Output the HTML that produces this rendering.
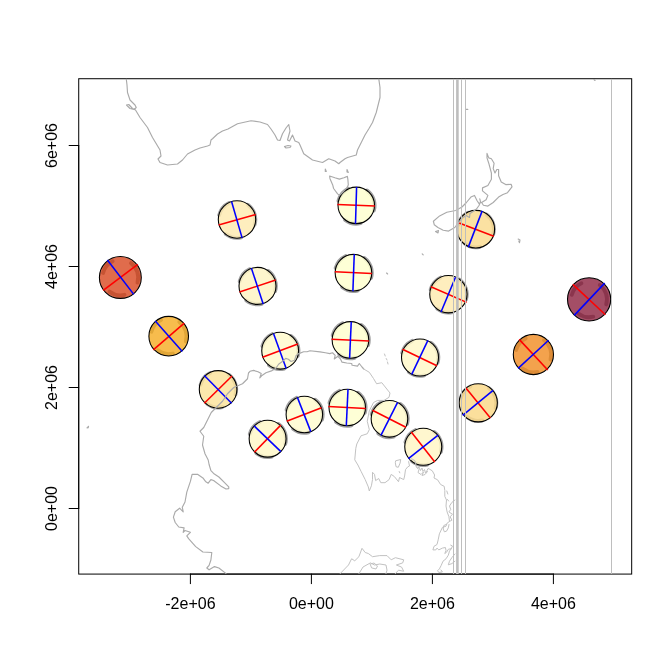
<!DOCTYPE html>
<html><head><meta charset="utf-8"><title>Tissot indicatrix plot</title>
<style>
html,body{margin:0;padding:0;background:#fff;}
svg{display:block}
text{font-family:"Liberation Sans",Arial,Helvetica,sans-serif;font-size:16px;fill:#000}
</style></head><body>
<svg width="672" height="672" viewBox="0 0 672 672">
<rect width="672" height="672" fill="#fff"/>
<defs><clipPath id="pc"><rect x="78.72" y="78.72" width="552.9599999999999" height="495.36"/></clipPath></defs>
<g fill="none" stroke="#000" stroke-width="1" stroke-linecap="round">
<path d="M190.4,574.08H553.4" />
<path d="M190.4,574.08v9.6"/>
<path d="M311.4,574.08v9.6"/>
<path d="M432.4,574.08v9.6"/>
<path d="M553.4,574.08v9.6"/>
<path d="M78.72,508.5V145.5"/>
<path d="M78.72,145.5h-9.6"/>
<path d="M78.72,266.5h-9.6"/>
<path d="M78.72,387.5h-9.6"/>
<path d="M78.72,508.5h-9.6"/>
<rect x="78.72" y="78.72" width="552.96" height="495.36"/>
</g>
<g clip-path="url(#pc)">
<path d="M103.07,272.98A17.85,17.85 0 0 1 112.67,261.34 M130.97,263.10A17.85,17.85 0 0 1 137.46,282.52 M124.52,294.81A17.85,17.85 0 0 1 109.48,291.61" fill="none" stroke="#a0a0a0" stroke-width="3.9" stroke-linecap="round"/>
<circle cx="120.35" cy="277.45" r="20.95" fill="rgba(213,56,13,0.74)" stroke="#000" stroke-width="1.08"/>
<line x1="103.2" y1="290.4" x2="137.8" y2="264.3" stroke="#f00" stroke-width="1.55"/>
<line x1="107.4" y1="260.05" x2="133.75" y2="294.4" stroke="#00f" stroke-width="1.55"/>
<path d="M151.42,331.73A17.85,17.85 0 0 1 161.02,320.09 M179.32,321.85A17.85,17.85 0 0 1 185.81,341.27 M172.87,353.56A17.85,17.85 0 0 1 157.83,350.36" fill="none" stroke="#a0a0a0" stroke-width="3.9" stroke-linecap="round"/>
<circle cx="168.7" cy="336.2" r="19.80" fill="rgba(245,168,23,0.77)" stroke="#000" stroke-width="1.08"/>
<line x1="153.3" y1="349.9" x2="184.3" y2="323.1" stroke="#f00" stroke-width="1.55"/>
<line x1="155.3" y1="321.1" x2="182.3" y2="351.5" stroke="#00f" stroke-width="1.55"/>
<path d="M200.58,384.87A18.10,18.10 0 0 1 210.31,373.06 M228.87,374.85A18.10,18.10 0 0 1 235.45,394.54 M222.33,407.00A18.10,18.10 0 0 1 207.08,403.76" fill="none" stroke="#a0a0a0" stroke-width="3.9" stroke-linecap="round"/>
<circle cx="218.1" cy="389.4" r="18.80" fill="rgba(251,228,156,0.84)" stroke="#000" stroke-width="1.08"/>
<line x1="204.3" y1="403.2" x2="232" y2="376" stroke="#f00" stroke-width="1.55"/>
<line x1="204.3" y1="375.5" x2="231.6" y2="403.2" stroke="#00f" stroke-width="1.55"/>
<path d="M219.23,214.91A18.35,18.35 0 0 1 229.10,202.94 M247.91,204.75A18.35,18.35 0 0 1 254.59,224.71 M241.28,237.34A18.35,18.35 0 0 1 225.83,234.06" fill="none" stroke="#a0a0a0" stroke-width="3.9" stroke-linecap="round"/>
<circle cx="237.0" cy="219.5" r="18.70" fill="rgba(254,235,178,0.84)" stroke="#000" stroke-width="1.08"/>
<line x1="218.6" y1="225" x2="255.7" y2="214.45" stroke="#f00" stroke-width="1.55"/>
<line x1="231.55" y1="201.5" x2="242.1" y2="237.9" stroke="#00f" stroke-width="1.55"/>
<path d="M239.73,281.31A18.35,18.35 0 0 1 249.60,269.34 M268.41,271.15A18.35,18.35 0 0 1 275.09,291.11 M261.78,303.74A18.35,18.35 0 0 1 246.33,300.46" fill="none" stroke="#a0a0a0" stroke-width="3.9" stroke-linecap="round"/>
<circle cx="257.5" cy="285.9" r="18.50" fill="rgba(254,244,195,0.84)" stroke="#000" stroke-width="1.08"/>
<line x1="239.5" y1="292.05" x2="275.7" y2="280" stroke="#f00" stroke-width="1.55"/>
<line x1="251.4" y1="268.2" x2="263.2" y2="303.9" stroke="#00f" stroke-width="1.55"/>
<path d="M262.38,346.11A18.35,18.35 0 0 1 272.25,334.14 M291.06,335.95A18.35,18.35 0 0 1 297.74,355.91 M284.43,368.54A18.35,18.35 0 0 1 268.98,365.26" fill="none" stroke="#a0a0a0" stroke-width="3.9" stroke-linecap="round"/>
<circle cx="280.15" cy="350.7" r="18.40" fill="rgba(255,250,204,0.84)" stroke="#000" stroke-width="1.08"/>
<line x1="262.5" y1="357.3" x2="297.8" y2="344.1" stroke="#f00" stroke-width="1.55"/>
<line x1="273.5" y1="333.4" x2="286.2" y2="368.5" stroke="#00f" stroke-width="1.55"/>
<path d="M249.83,434.11A18.35,18.35 0 0 1 259.70,422.14 M278.51,423.95A18.35,18.35 0 0 1 285.19,443.91 M271.88,456.54A18.35,18.35 0 0 1 256.43,453.26" fill="none" stroke="#a0a0a0" stroke-width="3.9" stroke-linecap="round"/>
<circle cx="267.6" cy="438.7" r="18.45" fill="rgba(255,248,200,0.84)" stroke="#000" stroke-width="1.08"/>
<line x1="254.4" y1="452.2" x2="280.75" y2="425.1" stroke="#f00" stroke-width="1.55"/>
<line x1="254.1" y1="425.9" x2="280.9" y2="451.6" stroke="#00f" stroke-width="1.55"/>
<path d="M286.58,409.86A18.35,18.35 0 0 1 296.45,397.89 M315.26,399.70A18.35,18.35 0 0 1 321.94,419.66 M308.63,432.29A18.35,18.35 0 0 1 293.18,429.01" fill="none" stroke="#a0a0a0" stroke-width="3.9" stroke-linecap="round"/>
<circle cx="304.35" cy="414.45" r="18.25" fill="rgba(255,251,206,0.84)" stroke="#000" stroke-width="1.08"/>
<line x1="286.7" y1="421.3" x2="321.5" y2="407.7" stroke="#f00" stroke-width="1.55"/>
<line x1="297.4" y1="397.4" x2="310.8" y2="431.6" stroke="#00f" stroke-width="1.55"/>
<path d="M329.48,402.86A18.35,18.35 0 0 1 339.35,390.89 M358.16,392.70A18.35,18.35 0 0 1 364.84,412.66 M351.53,425.29A18.35,18.35 0 0 1 336.08,422.01" fill="none" stroke="#a0a0a0" stroke-width="3.9" stroke-linecap="round"/>
<circle cx="347.25" cy="407.45" r="18.25" fill="rgba(254,255,206,0.84)" stroke="#000" stroke-width="1.08"/>
<line x1="328.4" y1="406.5" x2="365.7" y2="408.4" stroke="#f00" stroke-width="1.55"/>
<line x1="348" y1="389.3" x2="346.3" y2="425.7" stroke="#00f" stroke-width="1.55"/>
<path d="M332.68,335.31A18.35,18.35 0 0 1 342.55,323.34 M361.36,325.15A18.35,18.35 0 0 1 368.04,345.11 M354.73,357.74A18.35,18.35 0 0 1 339.28,354.46" fill="none" stroke="#a0a0a0" stroke-width="3.9" stroke-linecap="round"/>
<circle cx="350.45" cy="339.9" r="18.30" fill="rgba(254,255,206,0.84)" stroke="#000" stroke-width="1.08"/>
<line x1="331.6" y1="339.2" x2="368.9" y2="340.9" stroke="#f00" stroke-width="1.55"/>
<line x1="351.25" y1="321.7" x2="349.6" y2="358.3" stroke="#00f" stroke-width="1.55"/>
<path d="M335.68,268.11A18.35,18.35 0 0 1 345.55,256.14 M364.36,257.95A18.35,18.35 0 0 1 371.04,277.91 M357.73,290.54A18.35,18.35 0 0 1 342.28,287.26" fill="none" stroke="#a0a0a0" stroke-width="3.9" stroke-linecap="round"/>
<circle cx="353.45" cy="272.7" r="18.30" fill="rgba(254,255,206,0.84)" stroke="#000" stroke-width="1.08"/>
<line x1="334.8" y1="271.7" x2="371.9" y2="273.5" stroke="#f00" stroke-width="1.55"/>
<line x1="354.25" y1="254.3" x2="352.9" y2="291.3" stroke="#00f" stroke-width="1.55"/>
<path d="M338.48,200.76A18.35,18.35 0 0 1 348.35,188.79 M367.16,190.60A18.35,18.35 0 0 1 373.84,210.56 M360.53,223.19A18.35,18.35 0 0 1 345.08,219.91" fill="none" stroke="#a0a0a0" stroke-width="3.9" stroke-linecap="round"/>
<circle cx="356.25" cy="205.35" r="18.25" fill="rgba(254,255,206,0.84)" stroke="#000" stroke-width="1.08"/>
<line x1="337.4" y1="204.6" x2="374.9" y2="206.1" stroke="#f00" stroke-width="1.55"/>
<line x1="356.6" y1="186.9" x2="355.5" y2="223.8" stroke="#00f" stroke-width="1.55"/>
<path d="M371.68,414.21A18.35,18.35 0 0 1 381.55,402.24 M400.36,404.05A18.35,18.35 0 0 1 407.04,424.01 M393.73,436.64A18.35,18.35 0 0 1 378.28,433.36" fill="none" stroke="#a0a0a0" stroke-width="3.9" stroke-linecap="round"/>
<circle cx="389.45" cy="418.8" r="18.30" fill="rgba(255,250,204,0.84)" stroke="#000" stroke-width="1.08"/>
<line x1="372.4" y1="410.3" x2="405.9" y2="427.3" stroke="#f00" stroke-width="1.55"/>
<line x1="397.6" y1="402.3" x2="380.9" y2="435.3" stroke="#00f" stroke-width="1.55"/>
<path d="M402.23,352.86A18.35,18.35 0 0 1 412.10,340.89 M430.91,342.70A18.35,18.35 0 0 1 437.59,362.66 M424.28,375.29A18.35,18.35 0 0 1 408.83,372.01" fill="none" stroke="#a0a0a0" stroke-width="3.9" stroke-linecap="round"/>
<circle cx="420.0" cy="357.45" r="18.50" fill="rgba(255,248,200,0.84)" stroke="#000" stroke-width="1.08"/>
<line x1="402.5" y1="349.3" x2="436.9" y2="365.8" stroke="#f00" stroke-width="1.55"/>
<line x1="427.9" y1="340.4" x2="411.7" y2="374.3" stroke="#00f" stroke-width="1.55"/>
<path d="M405.48,442.11A18.35,18.35 0 0 1 415.35,430.14 M434.16,431.95A18.35,18.35 0 0 1 440.84,451.91 M427.53,464.54A18.35,18.35 0 0 1 412.08,461.26" fill="none" stroke="#a0a0a0" stroke-width="3.9" stroke-linecap="round"/>
<circle cx="423.25" cy="446.7" r="18.50" fill="rgba(255,245,198,0.84)" stroke="#000" stroke-width="1.08"/>
<line x1="411.3" y1="431.9" x2="434.8" y2="462" stroke="#f00" stroke-width="1.55"/>
<line x1="438.1" y1="435.2" x2="408.4" y2="458.7" stroke="#00f" stroke-width="1.55"/>
<path d="M430.63,289.61A18.35,18.35 0 0 1 440.50,277.64 M459.31,279.45A18.35,18.35 0 0 1 465.99,299.41 M452.68,312.04A18.35,18.35 0 0 1 437.23,308.76" fill="none" stroke="#a0a0a0" stroke-width="3.9" stroke-linecap="round"/>
<circle cx="448.4" cy="294.2" r="18.65" fill="rgba(254,235,178,0.84)" stroke="#000" stroke-width="1.08"/>
<line x1="430.9" y1="286.8" x2="466.7" y2="302.4" stroke="#f00" stroke-width="1.55"/>
<line x1="455.5" y1="277.2" x2="441" y2="312" stroke="#00f" stroke-width="1.55"/>
<path d="M458.28,224.67A18.10,18.10 0 0 1 468.01,212.86 M486.57,214.65A18.10,18.10 0 0 1 493.15,234.34 M480.03,246.80A18.10,18.10 0 0 1 464.78,243.56" fill="none" stroke="#a0a0a0" stroke-width="3.9" stroke-linecap="round"/>
<circle cx="475.8" cy="229.2" r="18.80" fill="rgba(250,219,144,0.84)" stroke="#000" stroke-width="1.08"/>
<line x1="459.2" y1="223" x2="493.8" y2="236.2" stroke="#f00" stroke-width="1.55"/>
<line x1="482.2" y1="210.9" x2="468.3" y2="247.1" stroke="#00f" stroke-width="1.55"/>
<path d="M460.73,398.27A18.10,18.10 0 0 1 470.46,386.46 M489.02,388.25A18.10,18.10 0 0 1 495.60,407.94 M482.48,420.40A18.10,18.10 0 0 1 467.23,417.16" fill="none" stroke="#a0a0a0" stroke-width="3.9" stroke-linecap="round"/>
<circle cx="478.25" cy="402.8" r="19.10" fill="rgba(250,217,137,0.84)" stroke="#000" stroke-width="1.08"/>
<line x1="465.9" y1="388.1" x2="490.4" y2="418" stroke="#f00" stroke-width="1.55"/>
<line x1="493.1" y1="390.3" x2="462.7" y2="415.3" stroke="#00f" stroke-width="1.55"/>
<path d="M516.12,350.03A17.85,17.85 0 0 1 525.72,338.39 M544.02,340.15A17.85,17.85 0 0 1 550.51,359.57 M537.57,371.86A17.85,17.85 0 0 1 522.53,368.66" fill="none" stroke="#a0a0a0" stroke-width="3.9" stroke-linecap="round"/>
<circle cx="533.4" cy="354.5" r="20.10" fill="rgba(239,134,23,0.77)" stroke="#000" stroke-width="1.08"/>
<line x1="519.2" y1="339.4" x2="547.75" y2="370" stroke="#f00" stroke-width="1.55"/>
<line x1="548.6" y1="340.3" x2="518.1" y2="368.4" stroke="#00f" stroke-width="1.55"/>
<path d="M571.82,294.88A17.85,17.85 0 0 1 581.42,283.24 M599.72,285.00A17.85,17.85 0 0 1 606.21,304.42 M593.27,316.71A17.85,17.85 0 0 1 578.23,313.51" fill="none" stroke="#a0a0a0" stroke-width="3.9" stroke-linecap="round"/>
<circle cx="589.1" cy="299.35" r="21.60" fill="rgba(132,16,48,0.74)" stroke="#000" stroke-width="1.08"/>
<line x1="572.8" y1="284.4" x2="605.4" y2="314.8" stroke="#f00" stroke-width="1.55"/>
<line x1="604.7" y1="283.1" x2="574.2" y2="315.4" stroke="#00f" stroke-width="1.55"/>
<g fill="none" stroke="#aaaaaa" stroke-width="1.15" stroke-linejoin="round" stroke-linecap="round">
<path d="M126.25,78.7 L127,85 L127.5,92.5 L130,100 L131.5,101.5 L135,105 L136.25,107.5 L134,109.5 L130,108.5 L126.5,105 L128.75,104.5 L132.5,108.5 L135.5,110 L140,117.5 L147.5,127.5 L152.5,137.5 L160,150 L161,156 L158,159 L160,162.5 L167.5,165 L177.5,164 L182.5,160 L187.5,154 L195,150 L200,148 L207.5,146 L210,145 L211,140 L212.5,138.75 L217.5,134 L222.5,131 L228,129 L237.5,123.75 L251,120.75 L260,122 L267.5,124.5 L271,129 L275,135 L277.5,140 L280,140.5 L282.5,133.75 L286,128 L288.75,124.5 L290,131 L287.5,140 L289.5,141 L292.5,135 L295,141 L298.75,142.5 L300,145 L303.75,153.75 L312.5,160 L322.5,162.5 L328.75,158.75 L335,161 L338.75,163.75 L340,162.5 L345,158.75 L347.5,157.5 L356.25,155 L357.5,150 L360,145 L365,135 L369,128.5 L372.5,122.5 L376.25,112.5 L380,97.5 L380,87.5 L378.75,78.7 M284.5,146.5 L288,145.5 L291,146 L290,147.5 L286,148Z M329.6,176 L334.9,177.8 L339.4,179.1 L343.9,177.8 L347.4,176.4 L347.9,179.6 L348.3,184.9 L347,187.6 L343.9,191.2 L341.2,193.9 L339.4,195.2 L337.6,193.9 L333.6,188.5 L332.7,184.9 L330,178.7Z M325.3,169 L326.3,171.5 L325.3,171.5Z M347,169.5 L348.3,172.5 L347,172Z M487,153.4 L488.75,157.9 L491.4,158.75 L494.1,163.2 L493.2,168.6 L495,173 L496.8,169.5 L498.6,169.5 L498.6,175.7 L501.25,182 L505.7,184.6 L511.1,184.3 L512,186.8 L507.5,192.7 L503,194.5 L498.6,197.1 L493.2,202.5 L487.9,206.1 L483.4,205.2 L481.6,202.5 L486.1,199.8 L487.9,195.4 L482.5,190.9 L482.5,187.9 L487.9,185.5 L491.4,179.3 L491.4,173 L488.75,163.2 L487,157.9Z M479.8,198.9 L480.7,202.5 L478.9,203.4 L477.1,200.7 L474.5,195.4 L470.9,197.1 L466.4,202.5 L462,207 L455.7,210.5 L446.8,212.3 L439.6,215.9 L433.4,221.25 L434.3,224.8 L437.9,227.5 L443.2,230.2 L448.6,231.1 L454.8,227.5 L457.5,223.9 L462,218 L466,215.5 L469.5,217.5 L470,213.5 L473,211.5 L476.5,209 L479,205.5 L480.5,202 M435.5,231.5 L438.5,230.5 L438,233Z M518.2,239.1 L520,240 L519.5,242.7 L518.8,241 M422.2,253.8 L423.2,254.8 M87,428 L88.5,426.3 L88.2,427.8Z M466.3,109.4 L467.8,109.4 M386.6,273 L387.6,274 M594,79.5 L595,80.5 M226,573.6 L225.2,572.9 L218.9,568 L214.5,566.6 L209.1,569.8 L206.8,568 L209.1,565.4 L210.9,560 L211.8,552.5 L202.9,552 L195.7,546.6 L188.6,538.6 L186.8,535.9 L190.4,532.3 L185,530.5 L183.2,532.3 L184.1,527.9 L178.75,527 L175.2,522.5 L173.4,517.1 L175.2,511.8 L179.6,508.2 L183.2,511.8 L182.3,507.3 L185,502 L186.8,492.1 L190.4,481.4 L192.1,474.3 L197.5,474.3 L202.9,477.9 L205.5,481.4 L208.2,483.2 L210.9,479.6 L213.6,480.5 L220.7,485.9 L226,489 L228.75,488.6 L228.75,486.8 L224.3,482.3 L218.9,477 L213.6,473.4 L210.9,470.7 L209.1,464.5 L208.2,460 L205,453.75 L202.5,445 L203.75,436.25 L200,431.25 L203.75,427.5 L207.5,420 L211.25,412.5 L216.25,407.5 L222.5,401.25 L227.5,393.75 L233.75,387.5 L242.5,383.75 L247.5,378.75 L248.5,373 L250,371.3 L253.6,370.4 L258,371.8 L261.2,373.6 L259.8,378 L261.6,375.8 L266,372.7 L271.4,370.9 L275.9,368.2 L278.6,364.2 L283,361 L285.7,358.4 L288.4,359.3 L291,361.5 L294.6,360.2 L296,355.7 L298.2,353.9 L303.6,351.7 L307.1,351.7 L310,350.8 L320,351.9 L325.4,352.75 L329.8,353.6 L332.5,352.75 L335.2,355.4 L334.3,359 L337.9,356.3 L340.5,359 L341.9,362.1 L346.8,363 L351.7,363.5 L352.1,365.25 L357.5,366.1 L359.3,363.5 L362,367 L363.75,369"/>
<path d="M363.75,369 L369.3,372.3 L373.5,378.5 L376.6,383.75 L381.8,382.7 L386,388 L390,393 L389,397.3 L384,400.4 L377.7,400.4 L373.5,402.5 L369.3,410.8 L367.25,421.25 L369.3,429.6 L367.25,433.75 L361,435.8 L356.8,444 L355.8,448.3 L354.75,459.8 L357.9,465 L361,471.25 L365.2,479.6 L368.3,486.9 L369.3,491 L371.4,485.8 L372.5,479.6 L372.5,472.3 L374.5,474.4 L375.6,480.6 L378.7,478.5 L380.8,482.7 L385,482.7 L389.1,479.6 L391.2,474.4 L394.3,476.5 L398.5,481.7 L399.5,477.5 L403.7,479.6 L404.6,476 L405.5,469.6 L407.7,466.9 L409.5,466 L408.6,461.5 L410.9,458.9 L412,458.9 L415,460.7 L415.6,463.1 L416,466 L417.5,468.5 L419,467 L420.5,470.5 L422,468 L423,471.5 L424.5,469.5 L425.5,473 L427,470.5 L428,468.5 L429.3,469 L432.3,470.8 L434.6,475 L434,478 L437.6,479.8 L440.6,484.5 L444.2,486.3 L444.8,490.5 L444.8,496.4 L446.5,500 L446,506 L447.1,511.9 L448.9,516.7 L449.5,521.4 L447.1,523.2 L446,526.2 L442.4,527.4 L441.2,530 L439.4,533.8 L438.2,539.8 L437,544.5 L434,546.3 L432.9,549.9 L435.8,549.9 L437,548.1 L438.8,549.9 L442.4,548.1 L445.4,547.5 L446,550.5 L444.8,553.5 L446.5,552.3 L448.3,549.3 L451.3,548.7 L449.5,551.1 L448.3,555.2 L446,558.8 L443,561.2 L441.2,565.4 L439.4,568.9 L437.6,570.7 L438.8,572.5 L442.4,571.9 L441,570 M396,460.7 L400.7,459.5 L400.1,463.1 L398.3,467.3 L396,466.7 L395.4,463.1Z M384.5,354 L385.2,356 M386.2,358.5 L387,360 M387.5,362 L388,364 M454.9,500 L451.9,502.4 L449.5,506 L450.7,509.5 L448.9,511.9 L452.5,514.3 L450.1,516.7 L451.9,520.2 L449.5,521.4 M416.5,467 L419,469.5 L418,472.5 L421,474.5 L423.5,472 L422,475.5 L425,474.5 L427.5,471.5 M399.2,471.5 L399.8,472.8 M446.8,491 L447.8,494 M447.5,499.5 L448.6,501 M454.9,554 L451.9,557.6 L449.5,561.2 L448.3,564.8 L451.9,563.6 L454.9,561.2 M446.5,524.3 L443.8,525.5 L443.2,529 L444.4,531.8 L446.5,531.2 L448.3,527.9 L449,524.5 M450.7,545.1 L452.5,546 L451.3,548.7 M340.2,573.6 L348.5,565 L351.6,558.75 L354.75,560.8 L358.9,556.7 L362,548.3 L365.2,552.5 L368.3,553.5 L372.5,556.7 L379.75,555.6 L387,555.6 L391.2,559.8 L395.4,557.7 L403.7,559.8 L402.7,562.9 L396.4,565 L401.6,567.1 L403.7,571.25 L398.5,570.2 L395.4,573.6 M359,573.6 L363,567 L370.4,562.9 L374.5,565 L379.75,564 L386,565 L387,570.2 L386,573.6 M370.5,564 L374,563 L377.5,566 L376,569 L372,568Z" stroke="#c2c2c2" stroke-width="1"/>
</g>
<g fill="none" stroke="#bebebe">
<path d="M453.5,78.72V574.08" stroke-width="1"/>
<path d="M457.4,78.72V574.08" stroke-width="2.6"/>
<path d="M461.5,78.72V574.08" stroke-width="1"/>
<path d="M465.5,78.72V574.08" stroke-width="1"/>
<path d="M611.5,78.72V574.08" stroke-width="1"/>
</g>
</g>
<text x="190.4" y="608.6" text-anchor="middle">-2e+06</text>
<text x="311.4" y="608.6" text-anchor="middle">0e+00</text>
<text x="432.4" y="608.6" text-anchor="middle">2e+06</text>
<text x="553.4" y="608.6" text-anchor="middle">4e+06</text>
<text transform="translate(56.6,145.5) rotate(-90)" text-anchor="middle">6e+06</text>
<text transform="translate(56.6,266.5) rotate(-90)" text-anchor="middle">4e+06</text>
<text transform="translate(56.6,387.5) rotate(-90)" text-anchor="middle">2e+06</text>
<text transform="translate(56.6,508.5) rotate(-90)" text-anchor="middle">0e+00</text>
</svg>
</body></html>
